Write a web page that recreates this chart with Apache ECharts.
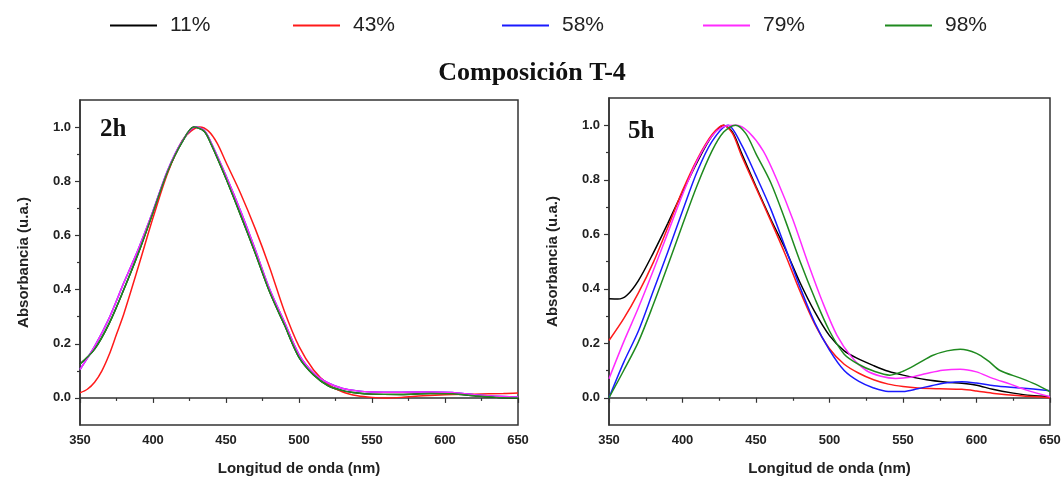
<!DOCTYPE html>
<html>
<head>
<meta charset="utf-8">
<script src="https://cdn.jsdelivr.net/npm/echarts@6/dist/echarts.min.js"></script>
<style>
html,body{margin:0;padding:0;background:#fff;}
#chart{width:1064px;height:483px;}
</style>
</head>
<body>
<div id="chart"></div>
<script>
// ---- Data (wavelength nm, normalized absorbance) ----
const seriesNames = ['11%', '43%', '58%', '79%', '98%'];
const seriesColors = ['#000000', '#ff1a1a', '#1a1aff', '#ff2bff', '#1f8a1f'];

// Panel 2h (black and blue lie under green and magenta in the reference)
const h2_11 = [[350,0.125],[360,0.18],[370,0.275],[380,0.40],[390,0.535],[400,0.685],[410,0.835],[420,0.945],[428,1.0],[435,0.985],[440,0.935],[450,0.81],[460,0.675],[470,0.535],[480,0.39],[490,0.27],[500,0.15],[510,0.085],[520,0.045],[530,0.027],[540,0.018],[550,0.014],[570,0.013],[590,0.016],[605,0.015],[620,0.008],[635,0.002],[650,0.0]];
const h2_43 = [[350,0.019],[355,0.032],[360,0.058],[365,0.1],[370,0.16],[375,0.235],[380,0.31],[390,0.485],[400,0.665],[410,0.83],[420,0.95],[426,0.985],[432,1.0],[438,0.985],[444,0.94],[450,0.87],[460,0.755],[470,0.625],[480,0.48],[490,0.32],[500,0.19],[510,0.103],[520,0.05],[530,0.022],[540,0.008],[550,0.002],[560,0.0],[570,0.002],[585,0.008],[600,0.012],[620,0.014],[640,0.016],[650,0.018]];
const h2_58 = [[350,0.105],[360,0.19],[370,0.295],[380,0.425],[390,0.55],[400,0.69],[410,0.84],[420,0.948],[429,1.0],[435,0.988],[440,0.94],[450,0.82],[460,0.69],[470,0.548],[480,0.40],[490,0.28],[500,0.16],[510,0.092],[520,0.055],[530,0.035],[540,0.026],[550,0.022],[570,0.021],[590,0.022],[605,0.02],[620,0.012],[640,0.005],[650,0.003]];
const h2_79 = [[350,0.105],[360,0.19],[370,0.295],[380,0.425],[390,0.55],[400,0.69],[410,0.84],[420,0.948],[429,1.0],[435,0.988],[440,0.94],[450,0.82],[460,0.69],[470,0.548],[480,0.40],[490,0.28],[500,0.16],[510,0.092],[520,0.055],[530,0.035],[540,0.026],[550,0.022],[570,0.021],[590,0.022],[605,0.02],[620,0.012],[640,0.005],[650,0.003]];
const h2_98 = [[350,0.125],[360,0.18],[370,0.275],[380,0.40],[390,0.535],[400,0.685],[410,0.835],[420,0.945],[428,1.0],[435,0.985],[440,0.935],[450,0.81],[460,0.675],[470,0.535],[480,0.39],[490,0.27],[500,0.15],[510,0.085],[520,0.045],[530,0.027],[540,0.018],[550,0.014],[570,0.013],[590,0.016],[605,0.015],[620,0.008],[635,0.002],[650,0.0]];

// Panel 5h
const h5_11 = [[350,0.363],[356,0.362],[362,0.375],[370,0.43],[380,0.53],[390,0.64],[400,0.755],[410,0.865],[420,0.96],[428,1.0],[434,0.975],[440,0.9],[450,0.775],[460,0.656],[470,0.545],[480,0.422],[490,0.315],[500,0.228],[510,0.172],[520,0.142],[530,0.118],[540,0.097],[550,0.083],[566,0.066],[580,0.057],[590,0.053],[600,0.046],[611,0.031],[625,0.017],[637,0.008],[650,0.004]];
const h5_43 = [[350,0.21],[360,0.29],[370,0.385],[380,0.495],[390,0.625],[400,0.76],[410,0.875],[420,0.965],[428,1.0],[434,0.97],[440,0.89],[450,0.77],[460,0.65],[470,0.525],[480,0.39],[490,0.27],[500,0.18],[510,0.123],[520,0.09],[530,0.066],[540,0.05],[550,0.041],[560,0.036],[575,0.033],[590,0.031],[600,0.025],[612,0.016],[630,0.007],[650,0.0]];
const h5_58 = [[350,0.0],[360,0.13],[370,0.245],[380,0.39],[390,0.535],[400,0.685],[410,0.83],[420,0.94],[431,1.0],[440,0.93],[450,0.815],[460,0.693],[470,0.55],[480,0.405],[490,0.275],[500,0.175],[510,0.1],[520,0.06],[530,0.036],[540,0.023],[550,0.023],[560,0.033],[570,0.045],[580,0.055],[590,0.059],[600,0.054],[612,0.044],[630,0.036],[650,0.026]];
const h5_79 = [[350,0.07],[360,0.205],[370,0.33],[380,0.465],[390,0.605],[400,0.745],[410,0.87],[420,0.96],[428,0.995],[437,1.0],[445,0.975],[455,0.905],[465,0.79],[475,0.655],[485,0.5],[495,0.355],[505,0.23],[515,0.15],[525,0.1],[535,0.079],[545,0.071],[555,0.075],[566,0.089],[577,0.101],[589,0.105],[600,0.095],[611,0.071],[623,0.05],[634,0.028],[650,0.004]];
const h5_98 = [[350,0.0],[360,0.1],[370,0.205],[380,0.34],[390,0.485],[400,0.635],[410,0.78],[420,0.905],[428,0.975],[436,1.0],[443,0.97],[450,0.895],[460,0.79],[470,0.65],[480,0.5],[490,0.365],[500,0.245],[510,0.16],[520,0.122],[530,0.098],[541,0.083],[550,0.097],[560,0.125],[570,0.155],[580,0.172],[589,0.178],[600,0.163],[608,0.135],[616,0.1],[630,0.072],[640,0.05],[650,0.022]];

const panel2h = [h2_11, h2_43, h2_58, h2_79, h2_98];
const panel5h = [h5_11, h5_43, h5_58, h5_79, h5_98];

const xTicks = [350, 400, 450, 500, 550, 600, 650];
const yMajor = [0, 0.2, 0.4, 0.6, 0.8, 1.0];
const yMinor = [0.1, 0.3, 0.5, 0.7, 0.9];

// ---- Chart ----
const chart = echarts.init(document.getElementById('chart'));
const axisColor = '#333';
const labelFont = {fontFamily: 'Liberation Sans, Arial, sans-serif', fontWeight: 'bold', fontSize: 13, color: '#222'};
const nameFont = {fontFamily: 'Liberation Sans, Arial, sans-serif', fontWeight: 'bold', fontSize: 15, color: '#222'};

function xAxisFor(gi) {
  return {
    type: 'value', gridIndex: gi, min: xTicks[0], max: xTicks[xTicks.length - 1], interval: 50,
    name: 'Longitud de onda (nm)', nameLocation: 'middle', nameGap: 36, nameTextStyle: nameFont,
    axisLine: {show: true, lineStyle: {color: axisColor, width: 1.5}},
    axisTick: {show: true, length: 5, lineStyle: {color: axisColor, width: 1.2}},
    minorTick: {show: true, splitNumber: 2, length: 3, lineStyle: {color: axisColor, width: 1.2}},
    axisLabel: Object.assign({margin: 9}, labelFont),
    splitLine: {show: false}
  };
}
function yAxisMajor(gi) {
  return {
    type: 'value', gridIndex: gi, min: -0.1, max: 1.1,
    name: 'Absorbancia (u.a.)', nameLocation: 'middle', nameGap: 49, nameTextStyle: nameFont,
    axisLine: {show: true, lineStyle: {color: axisColor, width: 1.5}},
    axisTick: {show: true, length: 5, customValues: yMajor, lineStyle: {color: axisColor, width: 1.2}},
    axisLabel: Object.assign({margin: 9, customValues: yMajor, formatter: v => v.toFixed(1)}, labelFont),
    splitLine: {show: false}
  };
}
function yAxisMinor(gi) {
  return {
    type: 'value', gridIndex: gi, min: -0.1, max: 1.1, position: 'left',
    axisLine: {show: false},
    axisTick: {show: true, length: 3, customValues: yMinor, lineStyle: {color: axisColor, width: 1.2}},
    axisLabel: {show: false},
    splitLine: {show: false}
  };
}

const series = [];
[panel2h, panel5h].forEach((panel, gi) => {
  panel.forEach((d, i) => {
    series.push({
      name: seriesNames[i], type: 'line', xAxisIndex: gi, yAxisIndex: gi * 2,
      data: d, smooth: 0.3, showSymbol: false, symbol: 'none',
      lineStyle: {color: seriesColors[i], width: 1.5}, itemStyle: {color: seriesColors[i]},
      emphasis: {disabled: true}, animation: false
    });
  });
});

const legendLefts = [105, 288, 497, 698, 880];
const legends = seriesNames.map((n, i) => ({
  data: [n], left: legendLefts[i], top: 10, itemWidth: 47, itemHeight: 2, icon: 'rect',
  textStyle: {fontFamily: 'Liberation Sans, Arial, sans-serif', fontSize: 21, color: '#222', padding: [0, 0, 0, 8]},
  selectedMode: false
}));

chart.setOption({
  animation: false,
  backgroundColor: '#fff',
  title: [
    {text: 'Composición T-4', left: 'center', top: 55, textStyle: {fontFamily: 'Liberation Serif, serif', fontWeight: 'bold', fontSize: 26, color: '#111'}},
    {text: '2h', left: 95, top: 112, textStyle: {fontFamily: 'Liberation Serif, serif', fontWeight: 'bold', fontSize: 25, color: '#111'}},
    {text: '5h', left: 623, top: 114, textStyle: {fontFamily: 'Liberation Serif, serif', fontWeight: 'bold', fontSize: 25, color: '#111'}}
  ],
  legend: legends,
  grid: [
    {left: 80, right: 546, top: 100, bottom: 58, show: true, borderColor: axisColor, borderWidth: 1.5, backgroundColor: 'transparent'},
    {left: 609, right: 14, top: 98, bottom: 58, show: true, borderColor: axisColor, borderWidth: 1.5, backgroundColor: 'transparent'}
  ],
  xAxis: [xAxisFor(0), xAxisFor(1)],
  yAxis: [yAxisMajor(0), yAxisMinor(0), yAxisMajor(1), yAxisMinor(1)],
  series: series
});
</script>
</body>
</html>
